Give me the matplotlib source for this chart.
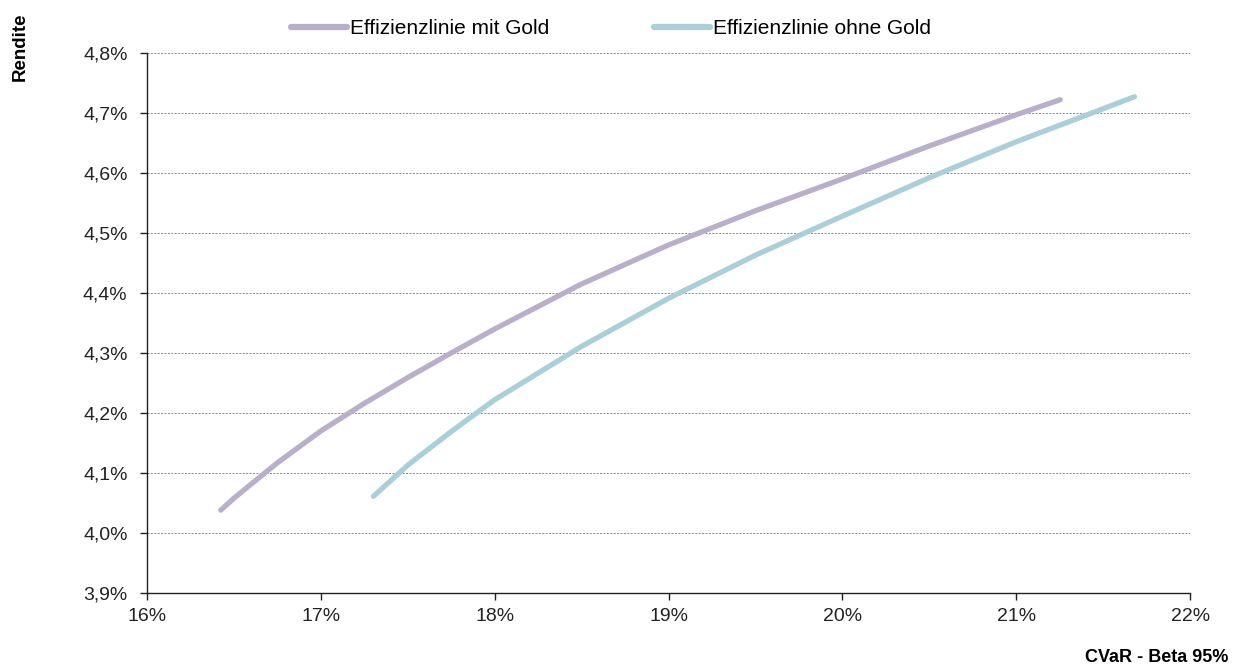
import matplotlib
matplotlib.use("Agg")
import matplotlib.pyplot as plt
from matplotlib.ticker import FuncFormatter, MultipleLocator

plt.rcParams['font.family'] = ['Liberation Sans', 'DejaVu Sans']

# CVaR (Beta 95%) in % and expected return in %
cvar_mit_gold = [16.424, 16.5, 16.75, 17.0, 17.25, 17.5, 17.75, 18.0, 18.5,
                 19.0, 19.5, 20.0, 20.5, 21.0, 21.253]
rendite_mit_gold = [4.038, 4.058, 4.117, 4.170, 4.216, 4.259, 4.300, 4.340, 4.415,
                    4.480, 4.537, 4.590, 4.645, 4.697, 4.722]

cvar_ohne_gold = [17.302, 17.5, 17.75, 18.0, 18.5, 19.0, 19.5, 20.0, 20.5,
                  21.0, 21.5, 21.68]
rendite_ohne_gold = [4.061, 4.113, 4.169, 4.222, 4.311, 4.391, 4.463, 4.528, 4.592,
                     4.652, 4.707, 4.727]

labels = ["Effizienzlinie mit Gold", "Effizienzlinie ohne Gold"]
colors = ["#B9AFCC", "#A9CFDA"]

fig = plt.figure(figsize=(12.42, 6.70), dpi=100)
ax = fig.add_axes([0.1184, 0.115, 0.8398, 0.806])

ax.plot(cvar_mit_gold, rendite_mit_gold, color=colors[0], lw=3.8,
        solid_capstyle='round', solid_joinstyle='round', label=labels[0])
ax.plot(cvar_ohne_gold, rendite_ohne_gold, color=colors[1], lw=3.8,
        solid_capstyle='round', solid_joinstyle='round', label=labels[1])

ax.set_xlim(16, 22)
ax.set_ylim(3.9, 4.8)
ax.xaxis.set_major_locator(MultipleLocator(1))
ax.yaxis.set_major_locator(MultipleLocator(0.1))
ax.xaxis.set_major_formatter(FuncFormatter(lambda v, p: f"{v:.0f}%"))
ax.yaxis.set_major_formatter(FuncFormatter(lambda v, p: f"{v:.1f}%".replace('.', ',')))

ax.yaxis.grid(True, color='#888888', linestyle=(0, (2, 1.5)), linewidth=0.7)
ax.set_axisbelow(True)
for s in ['top', 'right']:
    ax.spines[s].set_visible(False)
for s in ['left', 'bottom']:
    ax.spines[s].set_color('#222222')
    ax.spines[s].set_linewidth(1.0)
ax.tick_params(axis='both', direction='out', length=5, width=1.0,
               color='#222222', labelsize=14, labelcolor='#222222')
ax.tick_params(axis='x', pad=6)
ax.tick_params(axis='y', pad=9)

fig.text(0.016, 0.930, "Rendite", rotation=90, ha='center', va='center',
         fontsize=13.5, fontweight='bold')
fig.text(0.989, 0.0194, "CVaR - Beta 95%", ha='right', va='center',
         fontsize=13, fontweight='bold')

leg = fig.legend(loc='center', bbox_to_anchor=(0.492, 0.957), ncol=2,
                 frameon=False, fontsize=15, handlelength=2.7,
                 handletextpad=0.15, columnspacing=5.0)
for h in leg.get_lines():
    h.set_linewidth(4.5)
    h.set_solid_capstyle('round')

fig.savefig("out.png", dpi=100)
